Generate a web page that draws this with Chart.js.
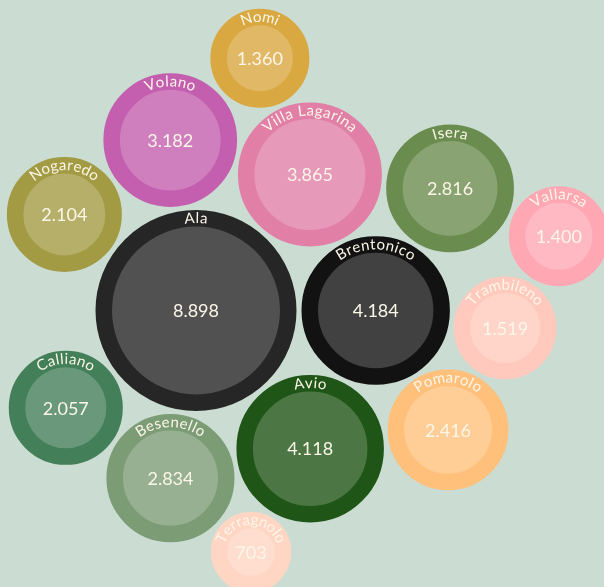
<!DOCTYPE html>
<html>
<head>
<meta charset="utf-8">
<script src="https://cdn.jsdelivr.net/npm/chart.js@4.4.0/dist/chart.umd.min.js"></script>
<style>
  html, body { margin: 0; padding: 0; background: #cbdcd2; overflow: hidden; }
  #wrap { width: 604px; height: 587px; }
</style>
</head>
<body>
<div id="wrap"><canvas id="bubbleChart"></canvas></div>
<script>
// Residents per municipality
const municipalities = ['Ala', 'Brentonico', 'Avio', 'Villa Lagarina', 'Volano', 'Isera', 'Besenello',
    'Pomarolo', 'Nogaredo', 'Calliano', 'Trambileno', 'Vallarsa', 'Nomi', 'Terragnolo'];
const residents = [8898, 4184, 4118, 3865, 3182, 2816, 2834, 2416, 2104, 2057, 1519, 1400, 1360, 703];

// ring colour of each bubble (inner disc is the same colour lightened)
const ringColors = ['#262626', '#121212', '#1f5516', '#e17fa7', '#c35fae', '#6b8c4f', '#7c9c75',
    '#ffc07c', '#a39b44', '#437f59', '#ffcabd', '#ffa8b4', '#d9a840', '#ffd5c3'];

// how the bubbles are packed: each one rests against one or two bubbles already placed
const packing = [
    { name: 'Brentonico', touches: ['Ala'] },
    { name: 'Avio', touches: ['Ala', 'Brentonico'], side: 1 },
    { name: 'Villa Lagarina', touches: ['Ala', 'Brentonico'], side: -1 },
    { name: 'Volano', touches: ['Ala', 'Villa Lagarina'], side: -1 },
    { name: 'Nomi', touches: ['Volano', 'Villa Lagarina'], side: -1 },
    { name: 'Isera', touches: ['Villa Lagarina', 'Brentonico'], side: -1 },
    { name: 'Pomarolo', touches: ['Brentonico', 'Avio'], side: -1 },
    { name: 'Trambileno', touches: ['Brentonico', 'Pomarolo'], side: -1 },
    { name: 'Vallarsa', touches: ['Isera', 'Trambileno'], side: -1 },
    { name: 'Besenello', touches: ['Ala', 'Avio'], side: 1 },
    { name: 'Terragnolo', touches: ['Besenello', 'Avio'], side: 1 },
    { name: 'Calliano', touches: ['Ala', 'Besenello'], side: 1 },
    { name: 'Nogaredo', touches: ['Ala', 'Volano'], side: -1 }
];

const GAP = 5;       // space between bubbles
const RING = 16.5;   // thickness of the outer ring
const TEXT = '#fbf6e8';

const maxResidents = Math.max(...residents);
function outerRadius(v) {
    return 16.8 + 83.7 * Math.sqrt(v / maxResidents);
}

function lighten(hex, amount) {
    const n = parseInt(hex.slice(1), 16);
    const mix = c => Math.round(c + (255 - c) * amount);
    return 'rgb(' + mix(n >> 16) + ',' + mix((n >> 8) & 255) + ',' + mix(n & 255) + ')';
}

function formatNumber(v) {
    return String(v).replace(/\B(?=(\d{3})+(?!\d))/g, '.');
}

// place the bubbles
const radii = residents.map(outerRadius);
const rOf = name => radii[municipalities.indexOf(name)];
const centres = {};
centres[municipalities[0]] = { x: 0, y: 0 };
packing.forEach(p => {
    const rc = rOf(p.name);
    const A = centres[p.touches[0]];
    const a = rOf(p.touches[0]) + rc + GAP;
    if (p.touches.length === 1) {
        centres[p.name] = { x: A.x + a, y: A.y };
        return;
    }
    const B = centres[p.touches[1]];
    const b = rOf(p.touches[1]) + rc + GAP;
    const dx = B.x - A.x, dy = B.y - A.y;
    const d = Math.hypot(dx, dy);
    const turn = Math.acos((a * a + d * d - b * b) / (2 * a * d)) * p.side;
    const ang = Math.atan2(dy, dx) + turn;
    centres[p.name] = { x: A.x + a * Math.cos(ang), y: A.y + a * Math.sin(ang) };
});

const points = municipalities.map((name, i) => ({
    x: centres[name].x,
    y: centres[name].y,
    r: radii[i] - RING / 2
}));

// value in the middle, name bent along the ring
const bubbleLabels = {
    id: 'bubbleLabels',
    afterDatasetsDraw(chart) {
        const ctx = chart.ctx;
        const meta = chart.getDatasetMeta(0);
        meta.data.forEach((el, i) => {
            ctx.save();
            ctx.fillStyle = TEXT;
            ctx.textAlign = 'center';
            ctx.textBaseline = 'middle';
            ctx.font = '18px Lato';
            ctx.fillText(formatNumber(residents[i]), el.x, el.y + 1);

            ctx.font = '15px Lato';
            const R = radii[i] - RING / 2;
            const chars = [...municipalities[i]];
            const spacing = 1;
            const widths = chars.map(c => ctx.measureText(c).width);
            const total = widths.reduce((s, w) => s + w, 0) + spacing * (chars.length - 1);
            let ang = -Math.PI / 2 - (total / 2) / R;
            chars.forEach((c, k) => {
                const mid = ang + (widths[k] / 2) / R;
                ctx.save();
                ctx.translate(el.x + R * Math.cos(mid), el.y + R * Math.sin(mid));
                ctx.rotate(mid + Math.PI / 2);
                ctx.fillText(c, 0, 0);
                ctx.restore();
                ang += (widths[k] + spacing) / R;
            });
            ctx.restore();
        });
    }
};

const bubbleCtx = document.getElementById('bubbleChart').getContext('2d');
new Chart(bubbleCtx, {
    type: 'bubble',
    data: {
        datasets: [{
            label: 'Residenti',
            data: points,
            backgroundColor: ringColors.map(c => lighten(c, 0.2)),
            borderColor: ringColors,
            borderWidth: RING,
            clip: false
        }]
    },
    options: {
        responsive: true,
        maintainAspectRatio: false,
        animation: false,
        events: [],
        layout: { padding: 0, autoPadding: false },
        plugins: {
            legend: { display: false },
            tooltip: { enabled: false }
        },
        scales: {
            x: { type: 'linear', display: false, min: -196, max: 408 },
            y: { type: 'linear', display: false, reverse: true, min: -310.5, max: 276.5 }
        }
    },
    plugins: [bubbleLabels]
});
</script>
</body>
</html>
